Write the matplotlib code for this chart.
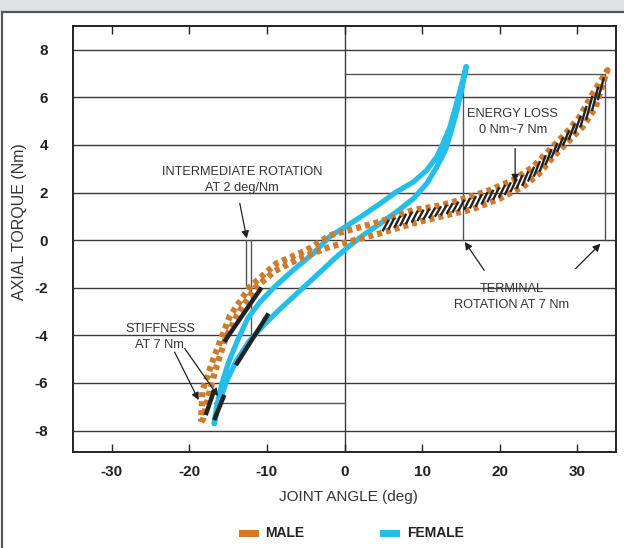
import matplotlib
matplotlib.use('Agg')
import matplotlib.pyplot as plt
from matplotlib.patches import Rectangle
from matplotlib.lines import Line2D
from matplotlib.collections import LineCollection
import numpy as np

FONT = ['Liberation Sans', 'DejaVu Sans']
plt.rcParams['font.family'] = FONT

ORANGE = '#d07b2c'
BLUE = '#25bdea'
INK = '#222222'
GRID = '#3a3a3a'

# ---------------- data ----------------
x_ticks = [-30, -20, -10, 0, 10, 20, 30]
y_ticks = [-8, -6, -4, -2, 0, 2, 4, 6, 8]

# female hysteresis loop: loading branch (lower/right) then unloading (upper/left)
female_load_x = [-16.8, -16.2, -15.3, -14.0, -12.3, -10.5, -8.5, -6.0, -3.5, -1.2, 0.6, 2.4,
                 4.6, 6.7, 8.9, 10.6, 11.9, 13.0, 13.8, 14.5, 15.1, 15.7]
female_load_y = [-7.7, -6.9, -6.0, -5.1, -4.25, -3.6, -2.95, -2.2, -1.45, -0.75, -0.25, 0.21,
                 0.7, 1.19, 1.75, 2.38, 3.08, 3.78, 4.62, 5.46, 6.3, 7.3]
female_unload_x = [15.7, 14.9, 14.2, 13.6, 12.7, 11.9, 10.6, 8.9, 6.7, 4.6, 2.4, 0.3, -1.9,
                   -4.0, -6.6, -9.0, -10.9, -12.5, -13.9, -15.0, -15.8, -16.4, -16.8]
female_unload_y = [7.3, 6.3, 5.46, 4.76, 4.06, 3.5, 2.94, 2.45, 2.03, 1.54, 1.05, 0.6, 0.15,
                   -0.55, -1.25, -1.96, -2.6, -3.3, -4.3, -5.18, -6.02, -6.86, -7.7]

# male hysteresis loop
male_load_x = [-18.5, -18.2, -17.5, -16.5, -15.3, -13.6, -11.5, -9.0, -6.0, -1.9, 4.5, 8.8, 12.2,
               16.5, 20.0, 23.0, 25.1, 26.9, 29.0, 30.7, 32.4, 33.3, 33.9]
male_load_y = [-7.63, -7.5, -6.5, -5.3, -4.1, -3.0, -2.0, -1.3, -0.8, -0.28, 0.28, 0.7, 0.98,
               1.3, 1.75, 2.24, 2.8, 3.5, 4.2, 4.76, 5.6, 6.58, 7.14]
male_unload_x = [33.9, 32.0, 30.3, 28.5, 26.4, 24.3, 21.7, 18.7, 14.8, 12.2, 8.8, 4.5, -1.9,
                 -4.9, -8.8, -12.2, -14.8, -16.8, -18.3, -18.5]
male_unload_y = [7.14, 6.16, 5.18, 4.48, 3.78, 3.08, 2.52, 2.1, 1.68, 1.45, 1.26, 0.77, 0.2,
                 -0.42, -0.98, -1.96, -3.2, -4.9, -6.3, -7.63]

# tangent bars (intermediate rotation & stiffness)
bar_male_mid_x = [-15.5, -10.7]
bar_male_mid_y = [-4.27, -1.99]
bar_female_mid_x = [-14.0, -9.8]
bar_female_mid_y = [-5.25, -3.08]
bar_male_stiff_x = [-17.9, -16.8]
bar_male_stiff_y = [-7.35, -6.3]
bar_female_stiff_x = [-16.8, -15.5]
bar_female_stiff_y = [-7.56, -6.5]

terminal_torque = 7.0
female_terminal_angle = 15.25
male_terminal_angle = 33.6
neg_terminal_torque = -6.86
neg_terminal_angle = -16.8
mid_line_x = [-12.7, -12.0]
mid_line_bottom = [-1.9, -4.2]

# ---------------- figure ----------------
W, H = 624, 548
fig = plt.figure(figsize=(W / 100, H / 100), dpi=100)
fig.patch.set_facecolor('white')

fig.patches.append(Rectangle((0, 1 - 11 / H), 1, 11 / H, transform=fig.transFigure,
                             facecolor='#dfe3e6', edgecolor='none', zorder=0))
fig.lines.append(Line2D([2 / W, 1], [1 - 11.5 / H, 1 - 11.5 / H], transform=fig.transFigure,
                        color='#555555', lw=1.6))
fig.lines.append(Line2D([2 / W, 2 / W], [0, 1 - 11.5 / H], transform=fig.transFigure,
                        color='#555555', lw=1.6))

ax = fig.add_axes([73 / W, 1 - 452 / H, 543 / W, 426 / H])
ax.set_xlim(-35, 35)
ax.set_ylim(-8.9, 9.0)

for y in y_ticks:
    ax.axhline(y, color=GRID, lw=1.0, zorder=1)
ax.axvline(0, color=GRID, lw=1.0, zorder=1)

for s in ax.spines.values():
    s.set_color('#222222')
    s.set_linewidth(1.4)

ax.set_xticks(x_ticks)
ax.set_xticklabels([str(v) for v in x_ticks], fontweight='bold', fontsize=11)
ax.set_yticks(y_ticks)
ax.set_yticklabels([str(v) for v in y_ticks], fontweight='bold', fontsize=11)
ax.tick_params(axis='x', direction='in', length=6, width=1, top=True, labeltop=False,
               pad=9, colors='#222222')
ax.tick_params(axis='y', length=0, pad=18, colors='#222222')

thin = dict(color='#555555', lw=1.0, zorder=2)
ax.plot([0, male_terminal_angle], [terminal_torque, terminal_torque], **thin)
ax.plot([female_terminal_angle, female_terminal_angle], [0, terminal_torque], **thin)
ax.plot([male_terminal_angle, male_terminal_angle], [0, terminal_torque], **thin)
ax.plot([neg_terminal_angle, 0], [neg_terminal_torque, neg_terminal_torque], **thin)
for xv, yb in zip(mid_line_x, mid_line_bottom):
    ax.plot([xv, xv], [0, yb], **thin)

fx = female_load_x + female_unload_x[1:]
fy = female_load_y + female_unload_y[1:]
ax.plot(fx, fy, color=BLUE, lw=3.8, solid_capstyle='round', solid_joinstyle='round', zorder=3)

mx = male_load_x + male_unload_x[1:]
my = male_load_y + male_unload_y[1:]
ax.plot(mx, my, color=ORANGE, lw=4.5, linestyle=(0, (0.8, 0.65)), dash_capstyle='butt', zorder=4)

# energy-loss hatching between male branches
lx = np.array(male_load_x); ly = np.array(male_load_y)
ux = np.array(male_unload_x)[::-1]; uy = np.array(male_unload_y)[::-1]
segs = []
for x0 in np.arange(4.8, 32.6, 0.75):
    y0 = np.interp(x0, lx, ly)
    x1 = x0 + 1.0
    y1 = np.interp(x1, ux, uy)
    dx, dy = x1 - x0, y1 - y0
    segs.append([(x0 + 0.1 * dx, y0 + 0.1 * dy), (x1 - 0.1 * dx, y1 - 0.1 * dy)])
ax.add_collection(LineCollection(segs, colors=INK, linewidths=1.7, zorder=5))

bar = dict(color=INK, lw=3.2, solid_capstyle='butt', zorder=6)
ax.plot(bar_male_mid_x, bar_male_mid_y, **bar)
ax.plot(bar_female_mid_x, bar_female_mid_y, **bar)
ax.plot(bar_male_stiff_x, bar_male_stiff_y, **bar)
ax.plot(bar_female_stiff_x, bar_female_stiff_y, **bar)

ann_fs = 9.2
tc = '#333333'
ax.text(-13.2, 2.52, 'INTERMEDIATE ROTATION\nAT 2 deg/Nm', ha='center', va='center',
        fontsize=ann_fs, color=tc, linespacing=1.45, zorder=7)
ax.text(-23.8, -4.05, 'STIFFNESS\nAT 7 Nm', ha='center', va='center',
        fontsize=ann_fs, color=tc, linespacing=1.45, zorder=7)
ax.text(21.7, 4.98, 'ENERGY LOSS\n0 Nm~7 Nm', ha='center', va='center',
        fontsize=ann_fs, color=tc, linespacing=1.45, zorder=7)
ax.text(21.5, -2.37, 'TERMINAL\nROTATION AT 7 Nm', ha='center', va='center',
        fontsize=ann_fs, color=tc, linespacing=1.45, zorder=7)

arrow = dict(arrowstyle='-|>', color=INK, lw=0.9, mutation_scale=11, shrinkA=0, shrinkB=0)
ax.annotate('', xy=(-12.6, 0.07), xytext=(-13.5, 1.55), arrowprops=arrow, zorder=7)
ax.annotate('', xy=(-18.8, -6.72), xytext=(-21.9, -4.7), arrowprops=arrow, zorder=7)
ax.annotate('', xy=(-16.3, -6.55), xytext=(-20.6, -4.55), arrowprops=arrow, zorder=7)
ax.annotate('', xy=(22.0, 2.45), xytext=(22.0, 3.85), arrowprops=arrow, zorder=7)
ax.annotate('', xy=(15.5, -0.07), xytext=(18.0, -1.26), arrowprops=arrow, zorder=7)
ax.annotate('', xy=(33.0, -0.15), xytext=(29.8, -1.19), arrowprops=arrow, zorder=7)

fig.text(348 / W, 1 - 497 / H, 'JOINT ANGLE (deg)', ha='center', va='center',
         fontsize=11, color=tc)
fig.text(20 / W, 1 - 222 / H, 'AXIAL TORQUE (Nm)', ha='center', va='center',
         rotation=90, fontsize=11.5, color=tc)

fig.patches.append(Rectangle((239 / W, 1 - 537 / H), 20 / W, 7 / H, transform=fig.transFigure,
                             facecolor=ORANGE, edgecolor='none'))
fig.text(265 / W, 1 - 533 / H, 'MALE', ha='left', va='center', fontsize=10,
         fontweight='bold', color='#222222')
fig.patches.append(Rectangle((380 / W, 1 - 537 / H), 20 / W, 7 / H, transform=fig.transFigure,
                             facecolor=BLUE, edgecolor='none'))
fig.text(407 / W, 1 - 533 / H, 'FEMALE', ha='left', va='center', fontsize=10,
         fontweight='bold', color='#222222')

fig.savefig('out.png', dpi=100)
